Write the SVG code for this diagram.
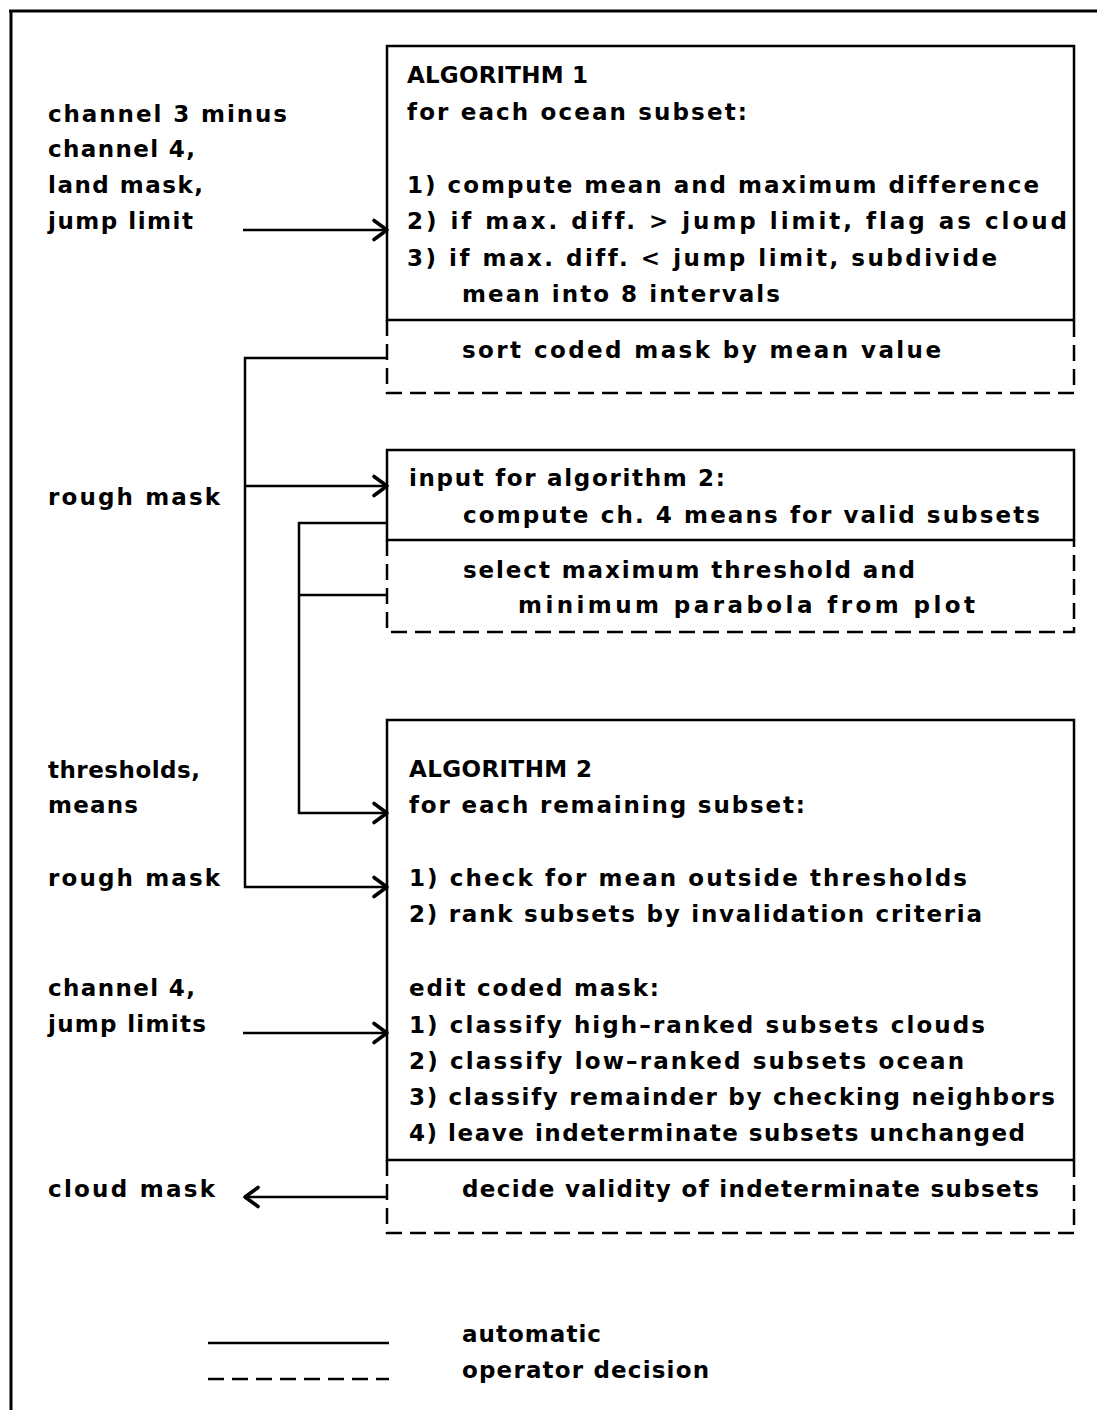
<svg xmlns="http://www.w3.org/2000/svg" width="1097" height="1410" viewBox="0 0 1097 1410">
<style>
text{font-family:"DejaVu Sans","Liberation Sans",Arial,sans-serif;font-size:23px;font-weight:bold;fill:#000;font-variant-ligatures:none;font-feature-settings:"liga" 0,"clig" 0}
.box{fill:none;stroke:#000;stroke-width:2.5}
.dash{fill:none;stroke:#000;stroke-width:2.5;stroke-dasharray:16 8}
.wire{fill:none;stroke:#000;stroke-width:2.5}
</style>
<defs>
<marker id="arr" markerWidth="20" markerHeight="26" refX="17" refY="13" orient="auto" markerUnits="userSpaceOnUse">
<path d="M4,3.5 L17,13 L4,22.5" fill="none" stroke="#000" stroke-width="3.6" stroke-linecap="round" stroke-linejoin="round"/>
</marker>
</defs>
<rect width="1097" height="1410" fill="#fff"/>
<g id="frame">
<path d="M9,11 H1097 M11,11 V1410" fill="none" stroke="#000" stroke-width="3"/>
</g>
<g id="inputs">
<text x="48" y="122" textLength="239" lengthAdjust="spacing">channel 3 minus</text>
<text x="48" y="157" textLength="147" lengthAdjust="spacing">channel 4,</text>
<text x="48" y="193" textLength="155" lengthAdjust="spacing">land mask,</text>
<text x="48" y="229" textLength="145" lengthAdjust="spacing">jump limit</text>
<text x="48" y="505" textLength="172" lengthAdjust="spacing">rough mask</text>
<text x="48" y="778" textLength="152" lengthAdjust="spacing">thresholds,</text>
<text x="48" y="813" textLength="90" lengthAdjust="spacing">means</text>
<text x="48" y="886" textLength="172" lengthAdjust="spacing">rough mask</text>
<text x="48" y="996" textLength="147" lengthAdjust="spacing">channel 4,</text>
<text x="48" y="1032" textLength="158" lengthAdjust="spacing">jump limits</text>
<text x="48" y="1197" textLength="167" lengthAdjust="spacing">cloud mask</text>
</g>
<g id="algorithm1">
<path class="box" d="M387,46 H1074 V320 H387 Z"/>
<path class="dash" d="M387,320 V393 H1074 V320"/>
<text x="407" y="83" textLength="181" lengthAdjust="spacing">ALGORITHM 1</text>
<text x="407" y="120" textLength="340" lengthAdjust="spacing">for each ocean subset:</text>
<text x="407" y="193" textLength="632" lengthAdjust="spacing">1) compute mean and maximum difference</text>
<text x="407" y="229" textLength="660" lengthAdjust="spacing">2) if max. diff. &gt; jump limit, flag as cloud</text>
<text x="407" y="266" textLength="590" lengthAdjust="spacing">3) if max. diff. &lt; jump limit, subdivide</text>
<text x="462" y="302" textLength="318" lengthAdjust="spacing">mean into 8 intervals</text>
<text x="462" y="358" textLength="479" lengthAdjust="spacing">sort coded mask by mean value</text>
</g>
<g id="input-algorithm2">
<path class="box" d="M387,450 H1074 V540 H387 Z"/>
<path class="dash" d="M387,540 V632 H1074 V540"/>
<text x="409" y="486" textLength="316" lengthAdjust="spacing">input for algorithm 2:</text>
<text x="463" y="523" textLength="577" lengthAdjust="spacing">compute ch. 4 means for valid subsets</text>
<text x="463" y="578" textLength="452" lengthAdjust="spacing">select maximum threshold and</text>
<text x="518" y="613" textLength="457" lengthAdjust="spacing">minimum parabola from plot</text>
</g>
<g id="algorithm2">
<path class="box" d="M387,720 H1074 V1160 H387 Z"/>
<path class="dash" d="M387,1160 V1233 H1074 V1160"/>
<text x="409" y="777" textLength="183" lengthAdjust="spacing">ALGORITHM 2</text>
<text x="409" y="813" textLength="396" lengthAdjust="spacing">for each remaining subset:</text>
<text x="409" y="886" textLength="558" lengthAdjust="spacing">1) check for mean outside thresholds</text>
<text x="409" y="922" textLength="573" lengthAdjust="spacing">2) rank subsets by invalidation criteria</text>
<text x="409" y="996" textLength="250" lengthAdjust="spacing">edit coded mask:</text>
<text x="409" y="1033" textLength="576" lengthAdjust="spacing">1) classify high–ranked subsets clouds</text>
<text x="409" y="1069" textLength="555" lengthAdjust="spacing">2) classify low–ranked subsets ocean</text>
<text x="409" y="1105" textLength="646" lengthAdjust="spacing">3) classify remainder by checking neighbors</text>
<text x="409" y="1141" textLength="616" lengthAdjust="spacing">4) leave indeterminate subsets unchanged</text>
<text x="462" y="1197" textLength="577" lengthAdjust="spacing">decide validity of indeterminate subsets</text>
</g>
<g id="legend">
<path class="wire" d="M208,1343 H389"/>
<path class="dash" d="M208,1379 H389"/>
<text x="462" y="1342" textLength="139" lengthAdjust="spacing">automatic</text>
<text x="462" y="1378" textLength="247" lengthAdjust="spacing">operator decision</text>
</g>
<g id="connectors">
<path class="wire" d="M243,230 H387" marker-end="url(#arr)"/>
<path class="wire" d="M387,358 H245 V887 H387" marker-end="url(#arr)"/>
<path class="wire" d="M245,486 H387" marker-end="url(#arr)"/>
<path class="wire" d="M387,523 H299 V813 H387" marker-end="url(#arr)"/>
<path class="wire" d="M387,595 H299"/>
<path class="wire" d="M243,1033 H387" marker-end="url(#arr)"/>
<path class="wire" d="M387,1197 H245" marker-end="url(#arr)"/>
</g>
</svg>
